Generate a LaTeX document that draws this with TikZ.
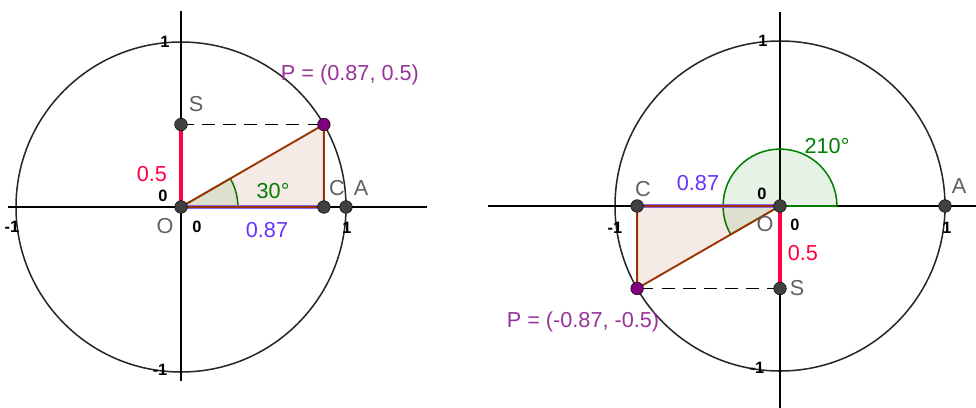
\documentclass[tikz,border=0pt]{standalone}
\usepackage{fontspec}
\setmainfont{Liberation Sans}
\usetikzlibrary{backgrounds}
\definecolor{ucSin}{HTML}{FF0040}
\definecolor{ucCos}{HTML}{6633FF}
\definecolor{ucPtext}{HTML}{993399}
\definecolor{ucPdot}{HTML}{800080}
\definecolor{ucAngle}{HTML}{007F00}
\definecolor{ucTri}{HTML}{993300}
\definecolor{ucDot}{HTML}{404040}
\definecolor{ucName}{HTML}{606060}
\tikzset{
  ucfig/.style={
    x=0.03cm, y=0.03cm,
    every node/.append style={font=\fontsize{18.5}{20}\selectfont},
  },
  unitcirc/.style={draw=black!85, line width=1.3pt},
  axisline/.style={draw=black, line width=1.5pt},
  ptdot/.style={circle, draw=black, line width=0.4pt, fill=ucDot,
    inner sep=0pt, minimum size=0.38cm},
  pdot/.style={ptdot, fill=ucPdot},
  sinseg/.style={draw=ucSin, line width=3pt},
  cosseg/.style={draw=ucCos!75, line width=4pt},
  triside/.style={draw=ucTri, line width=1.6pt, fill=ucTri, fill opacity=0.1},
  anglesec/.style={draw=ucAngle, line width=1.3pt, fill=ucAngle, fill opacity=0.1},
  projline/.style={draw=black, line width=1.4pt, dash pattern=on 11pt off 7pt},
  ticklbl/.style={font=\fontsize{14}{15}\selectfont\bfseries, inner sep=0pt},
  namelbl/.style={text=ucName, inner sep=0pt},
  vallbl/.style={inner sep=0pt},
}
\begin{document}
\begin{tikzpicture}[ucfig]
  \useasboundingbox (0,0) rectangle (976,407);
  % erster Kreis: Winkel 30 Grad
  \begin{scope}[shift={(181,200)}, scale=165]
    \node[ptdot] (OL) at (0,0) {};
    \node[ptdot] (SL) at (0,0.5) {};
    \node[pdot] (PL) at (0.866,0.5) {};
    \node[ptdot] (CL) at (0.866,0) {};
    \node[ptdot] (AL) at (1,0) {};
    \node[vallbl, text=ucPtext] (PLlbl) at (1.024,0.8) {P = (0.87, 0.5)};
    \node[namelbl] (SLlbl) at (0.091,0.624) {S};
    \node[namelbl] (CLlbl) at (0.945,0.115) {C};
    \node[namelbl] (ALlbl) at (1.091,0.115) {A};
    \node[namelbl] (OLlbl) at (-0.097,-0.115) {O};
    \node[vallbl, text=ucSin] (sinL) at (-0.176,0.2) {0.5};
    \node[vallbl, text=ucCos] (cosL) at (0.521,-0.139) {0.87};
    \node[vallbl, text=ucAngle] (angL) at (0.558,0.097) {30°};
    \node[ticklbl] at (-0.109,0.067) {0};
    \node[ticklbl] at (0.097,-0.121) {0};
    \node[ticklbl] at (-1.024,-0.121) {-1};
    \node[ticklbl] at (1.006,-0.127) {1};
    \node[ticklbl] at (-0.097,1.0) {1};
    \node[ticklbl] at (-0.127,-0.988) {-1};
    \begin{scope}[on background layer]
      \draw[unitcirc] (0,0) circle[radius=1];
      \draw[axisline] (-1.048,0) -- (1.491,0);
      \draw[axisline] (0,-1.055) -- (0,1.188);
      \draw[anglesec] (OL.center) -- (0.345,0) arc[start angle=0, end angle=30, radius=0.345] -- cycle;
      \draw[cosseg] (OL.center) -- (CL.center);
      \draw[triside] (OL.center) -- (CL.center) -- (PL.center) -- cycle;
      \draw[sinseg] (OL.center) -- (SL.center);
      \draw[projline] (SL.center) -- (PL.center);
    \end{scope}
  \end{scope}
  % zweiter Kreis: Winkel 210 Grad
  \begin{scope}[shift={(780,201)}, scale=165]
    \node[ptdot] (OR) at (0,0) {};
    \node[ptdot] (SR) at (0,-0.5) {};
    \node[pdot] (PR) at (-0.866,-0.5) {};
    \node[ptdot] (CR) at (-0.866,0) {};
    \node[ptdot] (AR) at (1,0) {};
    \node[vallbl, text=ucPtext] (PRlbl) at (-1.194,-0.703) {P = (-0.87, -0.5)};
    \node[namelbl] (SRlbl) at (0.103,-0.497) {S};
    \node[namelbl] (CRlbl) at (-0.830,0.103) {C};
    \node[namelbl] (ARlbl) at (1.085,0.121) {A};
    \node[namelbl] (ORlbl) at (-0.091,-0.109) {O};
    \node[vallbl, text=ucSin] (sinR) at (0.139,-0.285) {0.5};
    \node[vallbl, text=ucCos] (cosR) at (-0.497,0.139) {0.87};
    \node[vallbl, text=ucAngle] (angR) at (0.285,0.364) {210°};
    \node[ticklbl] at (-0.109,0.073) {0};
    \node[ticklbl] at (0.091,-0.115) {0};
    \node[ticklbl] at (-1.0,-0.133) {-1};
    \node[ticklbl] at (1.012,-0.133) {1};
    \node[ticklbl] at (-0.103,1.0) {1};
    \node[ticklbl] at (-0.139,-0.982) {-1};
    \begin{scope}[on background layer]
      \draw[unitcirc] (0,0) circle[radius=1];
      \draw[axisline] (-1.770,0) -- (1.188,0);
      \draw[axisline] (0,-1.224) -- (0,1.176);
      \draw[anglesec] (OR.center) -- (0.345,0) arc[start angle=0, end angle=210, radius=0.345] -- cycle;
      \draw[cosseg] (OR.center) -- (CR.center);
      \draw[triside] (OR.center) -- (CR.center) -- (PR.center) -- cycle;
      \draw[sinseg] (OR.center) -- (SR.center);
      \draw[projline] (SR.center) -- (PR.center);
    \end{scope}
  \end{scope}
\end{tikzpicture}
\end{document}
